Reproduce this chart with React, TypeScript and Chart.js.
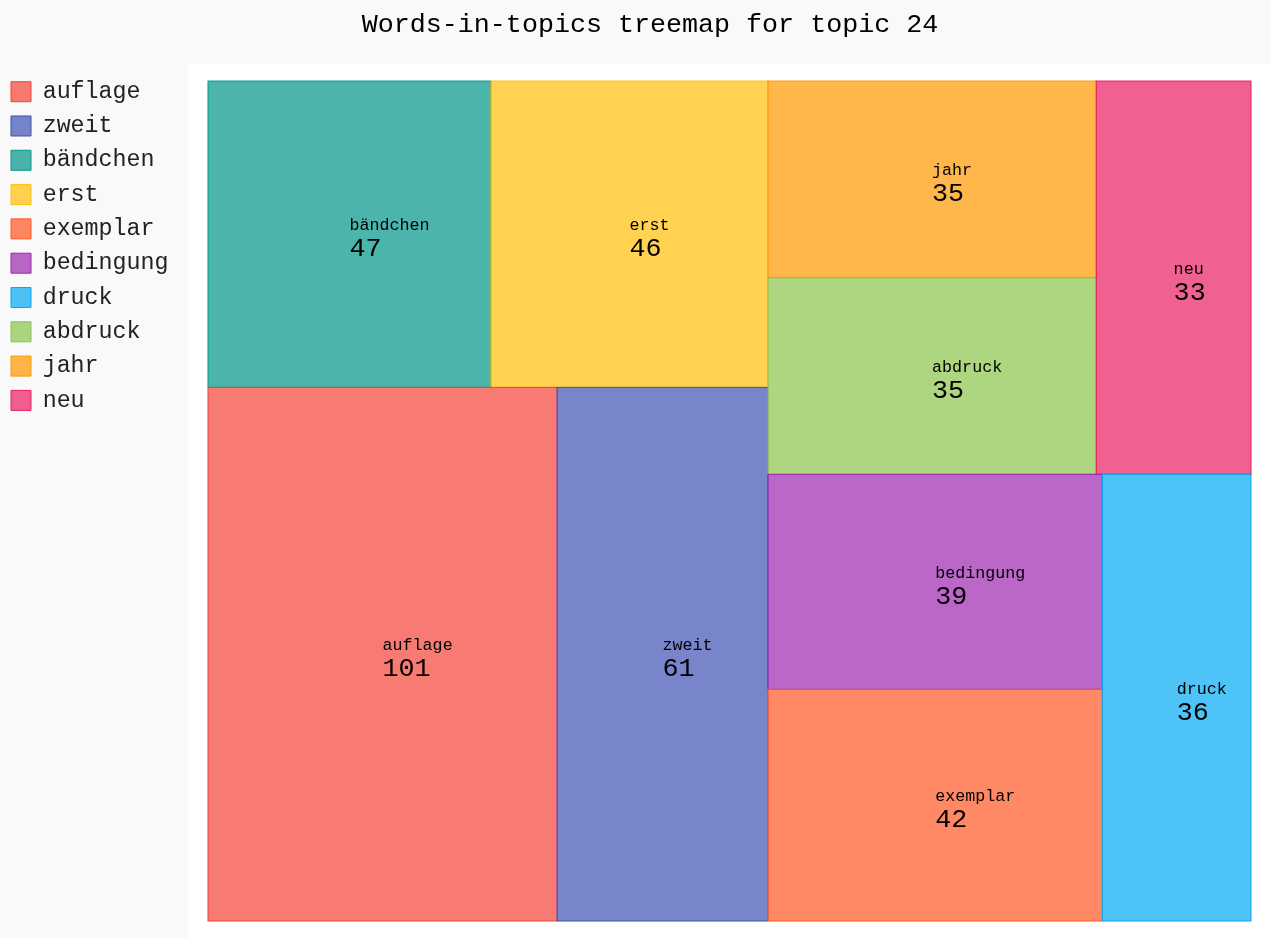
import React, { useEffect, useRef } from 'react';
import { Chart, registerables } from 'chart.js';

Chart.register(...registerables);

const TITLE = 'Words-in-topics treemap for topic 24';
const WORDS = ['auflage', 'zweit', 'bändchen', 'erst', 'exemplar', 'bedingung', 'druck', 'abdruck', 'jahr', 'neu'];
const COUNTS = [101, 61, 47, 46, 42, 39, 36, 35, 35, 33];
const BASE_COLORS = ['#F44336', '#3F51B5', '#009688', '#FFC107', '#FF5722', '#9C27B0', '#03A9F4', '#8BC34A', '#FF9800', '#E91E63'];

// Nesting of the treemap splits (leaf = index into WORDS/COUNTS); sizes come from COUNTS.
type LayoutNode = number | { dir: 'row' | 'col'; children: LayoutNode[] };
const LAYOUT: LayoutNode = {
  dir: 'row',
  children: [
    { dir: 'col', children: [{ dir: 'row', children: [2, 3] }, { dir: 'row', children: [0, 1] }] },
    {
      dir: 'col',
      children: [
        { dir: 'row', children: [{ dir: 'col', children: [8, 7] }, 9] },
        { dir: 'row', children: [{ dir: 'col', children: [5, 4] }, 6] },
      ],
    },
  ],
};

const MONO = "'Liberation Mono', 'DejaVu Sans Mono', monospace";
const PAGE_BG = '#f9f9f9';

function withAlpha(hex: string, a: number): string {
  const n = parseInt(hex.slice(1), 16);
  return `rgba(${(n >> 16) & 255}, ${(n >> 8) & 255}, ${n & 255}, ${a})`;
}

function nodeSum(n: LayoutNode): number {
  if (typeof n === 'number') return COUNTS[n];
  return n.children.reduce((s, c) => s + nodeSum(c), 0);
}

interface Tile { i: number; x0: number; y0: number; x1: number; y1: number }

function layoutTiles(node: LayoutNode, x0: number, y0: number, x1: number, y1: number, out: Tile[]) {
  if (typeof node === 'number') {
    out.push({ i: node, x0, y0, x1, y1 });
    return;
  }
  const total = nodeSum(node);
  let pos = node.dir === 'row' ? x0 : y0;
  for (const c of node.children) {
    const frac = nodeSum(c) / total;
    if (node.dir === 'row') {
      const w = (x1 - x0) * frac;
      layoutTiles(c, pos, y0, pos + w, y1, out);
      pos += w;
    } else {
      const h = (y1 - y0) * frac;
      layoutTiles(c, x0, pos, x1, pos + h, out);
      pos += h;
    }
  }
}

const treemapPlugin = {
  id: 'treemapTiles',
  beforeUpdate(chart: any) {
    const lg = chart.legend;
    if (lg && !lg.__patched) {
      const orig = lg.fit.bind(lg);
      lg.fit = function () {
        orig();
        if (this.options.display) this.width = 208;
      };
      lg.__patched = true;
    }
  },
  afterLayout(chart: any) {
    const t = chart.titleBlock;
    if (t) t.left = t.left + 49;
    const lg = chart.legend;
    if (lg) {
      lg.top = chart.chartArea.top - 12;
      lg.bottom = chart.height;
    }
  },
  beforeDraw(chart: any) {
    const { ctx, chartArea: ca } = chart;
    ctx.save();
    ctx.fillStyle = PAGE_BG;
    ctx.fillRect(0, 0, chart.width, chart.height);
    ctx.fillStyle = '#ffffff';
    const l = ca.left - 20;
    const t = ca.top - 17;
    ctx.fillRect(l, t, chart.width - l, chart.height - t);
    ctx.restore();
  },
  afterDatasetsDraw(chart: any) {
    const { ctx } = chart;
    const xs = chart.scales.x;
    const ys = chart.scales.y;
    const tiles: Tile[] = [];
    layoutTiles(LAYOUT, 0, 0, 1, 1, tiles);
    ctx.save();
    for (const tile of tiles) {
      const ds = chart.data.datasets[tile.i];
      const px0 = xs.getPixelForValue(tile.x0);
      const px1 = xs.getPixelForValue(tile.x1);
      const py0 = ys.getPixelForValue(tile.y0);
      const py1 = ys.getPixelForValue(tile.y1);
      ctx.fillStyle = ds.backgroundColor;
      ctx.fillRect(px0, py0, px1 - px0, py1 - py0);
      ctx.strokeStyle = ds.borderColor;
      ctx.lineWidth = ds.borderWidth;
      ctx.strokeRect(px0, py0, px1 - px0, py1 - py0);
    }
    for (const tile of tiles) {
      const cx = xs.getPixelForValue((tile.x0 + tile.x1) / 2);
      const cy = ys.getPixelForValue((tile.y0 + tile.y1) / 2);
      ctx.fillStyle = '#000000';
      ctx.textAlign = 'left';
      ctx.textBaseline = 'alphabetic';
      ctx.font = `16.7px ${MONO}`;
      ctx.fillText(WORDS[tile.i], cx, cy - 4);
      ctx.font = `26.7px ${MONO}`;
      ctx.fillText(String(COUNTS[tile.i]), cx, cy + 22);
    }
    ctx.restore();
  },
};

export default function App() {
  const canvasRef = useRef<HTMLCanvasElement | null>(null);

  useEffect(() => {
    const canvas = canvasRef.current;
    if (!canvas) return;
    const chart = new Chart(canvas, {
      type: 'scatter',
      data: {
        datasets: WORDS.map((w, i) => ({
          label: w,
          data: [],
          backgroundColor: withAlpha(BASE_COLORS[i], 0.7),
          borderColor: BASE_COLORS[i],
          borderWidth: 1,
        })),
      },
      options: {
        responsive: false,
        animation: false,
        events: [],
        layout: { padding: { top: 0, left: 0, right: 20, bottom: 17 } },
        scales: {
          x: { type: 'linear', min: 0, max: 1, display: false },
          y: { type: 'linear', min: 0, max: 1, reverse: true, display: false },
        },
        plugins: {
          title: {
            display: true,
            text: TITLE,
            color: '#000000',
            font: { family: MONO, size: 26.7, weight: 'normal', lineHeight: 1.2 },
            padding: { top: 9, bottom: 40 },
          },
          legend: {
            display: true,
            position: 'left',
            align: 'start',
            labels: {
              boxWidth: 20,
              boxHeight: 20,
              padding: 11,
              color: '#222222',
              font: { family: MONO, size: 23.3 },
            },
          },
          tooltip: { enabled: false },
        },
      },
      plugins: [treemapPlugin],
    } as any);
    return () => chart.destroy();
  }, []);

  return (
    <div style={{ position: 'fixed', left: 0, top: 0, width: 1271, height: 938, background: PAGE_BG }}>
      <canvas ref={canvasRef} width={1271} height={938} style={{ display: 'block' }} />
    </div>
  );
}
